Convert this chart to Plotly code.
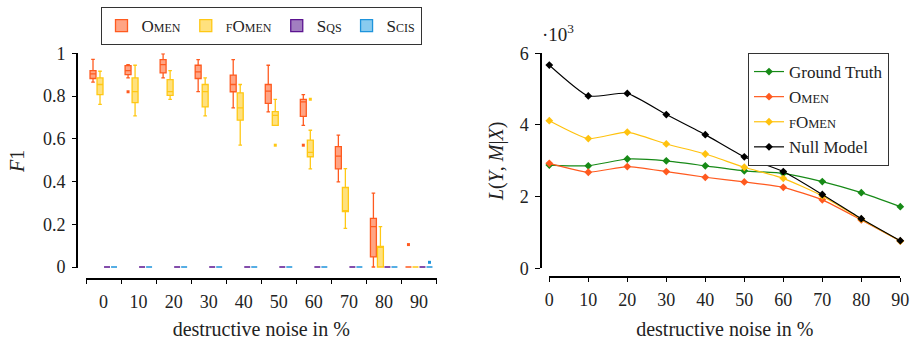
import plotly.graph_objects as go

# ---------------- data ----------------
noise = [0, 10, 20, 30, 40, 50, 60, 70, 80, 90]
tick_labels = ["0", "10", "20", "30", "40", "50", "60", "70", "80", "90"]

# F1 box statistics (left panel)
omen_lo  = [0.865, 0.885, 0.885, 0.821, 0.745, 0.726, 0.663, 0.398, 0.000, 0.0]
omen_q1  = [0.882, 0.900, 0.908, 0.882, 0.820, 0.766, 0.705, 0.459, 0.047, 0.0]
omen_med = [0.904, 0.919, 0.947, 0.913, 0.854, 0.823, 0.773, 0.519, 0.189, 0.0]
omen_q3  = [0.919, 0.942, 0.970, 0.944, 0.898, 0.854, 0.784, 0.563, 0.228, 0.0]
omen_hi  = [0.972, 0.947, 0.997, 0.970, 0.970, 0.944, 0.807, 0.617, 0.346, 0.0]

fomen_lo  = [0.761, 0.707, 0.784, 0.707, 0.570, 0.663, 0.459, 0.181, 0.000, 0.0]
fomen_q1  = [0.807, 0.769, 0.803, 0.749, 0.687, 0.663, 0.516, 0.259, 0.000, 0.0]
fomen_med = [0.854, 0.821, 0.821, 0.821, 0.745, 0.710, 0.536, 0.259, 0.097, 0.0]
fomen_q3  = [0.885, 0.885, 0.877, 0.854, 0.815, 0.727, 0.594, 0.372, 0.097, 0.0]
fomen_hi  = [0.916, 0.944, 0.919, 0.885, 0.854, 0.784, 0.640, 0.460, 0.189, 0.0]

sqs_stats  = [0.0] * 10
scis_stats = [0.0] * 10

omen_out_x = [10, 60, 90]
omen_out_y = [0.82, 0.57, 0.105]
fomen_out_x = [50, 60]
fomen_out_y = [0.57, 0.785]
scis_out_x = [90]
scis_out_y = [0.022]

# L(Y, M|X) in thousands (right panel)
gt_L    = [2.88, 2.86, 3.05, 3.00, 2.86, 2.72, 2.65, 2.42, 2.11, 1.72]
omen_L  = [2.93, 2.68, 2.84, 2.70, 2.54, 2.41, 2.26, 1.91, 1.35, 0.76]
fomen_L = [4.12, 3.62, 3.80, 3.47, 3.19, 2.82, 2.51, 2.02, 1.37, 0.76]
null_L  = [5.67, 4.81, 4.88, 4.29, 3.73, 3.11, 2.70, 2.06, 1.385, 0.77]

# ---------------- style ----------------
W, H = 915, 340
FONT = "Liberation Serif"
TXT = "#222222"
SC = "font-size:12px"
SC2 = "font-size:12.5px"

def sc(big, small, style=SC):
    return f"{big}<span style='{style}'>{small}</span>"

name_omen = sc("O", "MEN")
name_fomen = f"<span style='{SC}'>F</span>" + sc("O", "MEN")
name_sqs = sc("S", "QS")
name_scis = sc("S", "CIS")
name_omen2 = sc("O", "MEN", SC2)
name_fomen2 = f"<span style='{SC2}'>F</span>" + sc("O", "MEN", SC2)

box_series = [
    (name_omen, -3, "#FF5A1F", "rgba(255,90,31,0.55)",
     (omen_lo, omen_q1, omen_med, omen_q3, omen_hi), omen_out_x, omen_out_y),
    (name_fomen, -1, "#FFC814", "rgba(255,200,20,0.55)",
     (fomen_lo, fomen_q1, fomen_med, fomen_q3, fomen_hi), fomen_out_x, fomen_out_y),
    (name_sqs, 1, "#5B1390", "rgba(100,40,150,0.6)",
     (sqs_stats, sqs_stats, sqs_stats, sqs_stats, sqs_stats), [], []),
    (name_scis, 3, "#1E94DC", "rgba(40,160,225,0.55)",
     (scis_stats, scis_stats, scis_stats, scis_stats, scis_stats), scis_out_x, scis_out_y),
]

fig = go.Figure()

for i, (name, off, lc, fc, st, ox, oy) in enumerate(box_series):
    lo, q1, med, q3, hi = st
    fig.add_trace(go.Box(
        x=[n + off for n in noise], q1=q1, median=med, q3=q3,
        lowerfence=lo, upperfence=hi,
        name=name, legendgroup=f"g{i}", width=1.7, whiskerwidth=0.6,
        line=dict(color=lc, width=1.3), fillcolor=fc, boxpoints=False,
        xaxis="x", yaxis="y", legend="legend", hoverinfo="skip",
    ))
    if ox:
        fig.add_trace(go.Scatter(
            x=[v + off for v in ox], y=oy, mode="markers",
            marker=dict(symbol="square", size=3, color=lc),
            legendgroup=f"g{i}", showlegend=False, xaxis="x", yaxis="y",
            cliponaxis=False, hoverinfo="skip",
        ))

line_series = [
    ("Ground Truth", gt_L, "#178A17"),
    (name_omen2, omen_L, "#FF5A1F"),
    (name_fomen2, fomen_L, "#FFC20E"),
    ("Null Model", null_L, "#000000"),
]
for name, vals, col in line_series:
    fig.add_trace(go.Scatter(
        x=noise, y=vals, mode="lines+markers", name=name,
        line=dict(color=col, width=1.2, shape="spline", smoothing=0.5),
        marker=dict(symbol="diamond", size=6, color=col),
        xaxis="x2", yaxis="y2", legend="legend2", cliponaxis=False,
        hoverinfo="skip",
    ))

def px_x(p):
    return p / W

def px_y(p):
    return 1 - p / H

ydom = [px_y(268.3), px_y(53.3)]
tickfont = dict(family=FONT, size=18, color=TXT)
titlefont = dict(family=FONT, size=20, color=TXT)

fig.update_layout(
    width=W, height=H, margin=dict(l=0, r=0, t=0, b=0),
    paper_bgcolor="white", plot_bgcolor="white",
    font=dict(family=FONT, size=16, color=TXT),
    showlegend=True,
    xaxis=dict(
        domain=[px_x(86), px_x(436.5)], range=[-5, 95], anchor="free",
        position=px_y(279), showline=True, linecolor="black", linewidth=2.2,
        tickmode="array", tickvals=noise, ticktext=tick_labels, ticks="",
        ticklabelstandoff=6, tickfont=tickfont, showgrid=False, zeroline=False,
        minor=dict(ticks="outside", tickmode="linear", tick0=-5, dtick=10,
                   ticklen=4, tickwidth=1.3, tickcolor="black", showgrid=False),
        title=dict(text="destructive noise in %", standoff=12, font=titlefont),
        automargin=False,
    ),
    yaxis=dict(
        domain=ydom, range=[-0.006, 1.0], anchor="free", position=px_x(77.3),
        showline=True, linecolor="black", linewidth=2.2,
        tickmode="array", tickvals=[0, 0.2, 0.4, 0.6, 0.8, 1.0],
        ticktext=["0", "0.2", "0.4", "0.6", "0.8", "1"],
        ticks="outside", ticklen=4, tickwidth=1.3, tickcolor="black",
        ticklabelstandoff=3, tickfont=tickfont, showgrid=False, zeroline=False,
        title=dict(text="<i>F</i>1", standoff=12, font=titlefont),
        automargin=False,
    ),
    xaxis2=dict(
        domain=[px_x(549.3), px_x(900.3)], range=[0, 90], anchor="free",
        position=px_y(276.7), showline=True, linecolor="black", linewidth=1.7,
        tickmode="array", tickvals=noise, ticktext=tick_labels,
        ticks="outside", ticklen=4, tickwidth=1.2, tickcolor="black",
        ticklabelstandoff=3, tickfont=tickfont, showgrid=False, zeroline=False,
        title=dict(text="destructive noise in %", standoff=12, font=titlefont),
        automargin=False,
    ),
    yaxis2=dict(
        domain=ydom, range=[0, 6], anchor="free", position=px_x(541),
        showline=True, linecolor="black", linewidth=1.5,
        tickmode="array", tickvals=[0, 2, 4, 6], ticktext=["0", "2", "4", "6"],
        ticks="outside", ticklen=5, tickwidth=1.2, tickcolor="black",
        ticklabelstandoff=3, tickfont=tickfont, showgrid=False, zeroline=False,
        title=dict(text="<i>L</i>(<i>Y</i>, <i>M</i>|<i>X</i>)", standoff=10,
                   font=titlefont),
        automargin=False,
    ),
    legend=dict(
        orientation="h", x=px_x(261), xanchor="center", y=px_y(7), yanchor="top",
        bordercolor="#333333", borderwidth=1, bgcolor="white",
        font=dict(family=FONT, size=17, color=TXT), itemwidth=30,
        traceorder="normal",
    ),
    legend2=dict(
        orientation="v", x=px_x(748), xanchor="left", y=px_y(53), yanchor="top",
        bordercolor="#333333", borderwidth=1, bgcolor="white",
        font=dict(family=FONT, size=17, color=TXT), itemwidth=30,
        tracegroupgap=0,
    ),
    annotations=[
        dict(text="·10<sup>3</sup>", x=px_x(540), y=px_y(33), xref="paper",
             yref="paper", xanchor="left", yanchor="middle", showarrow=False,
             font=dict(family=FONT, size=19, color=TXT)),
    ],
)

fig.write_html("out.html")
